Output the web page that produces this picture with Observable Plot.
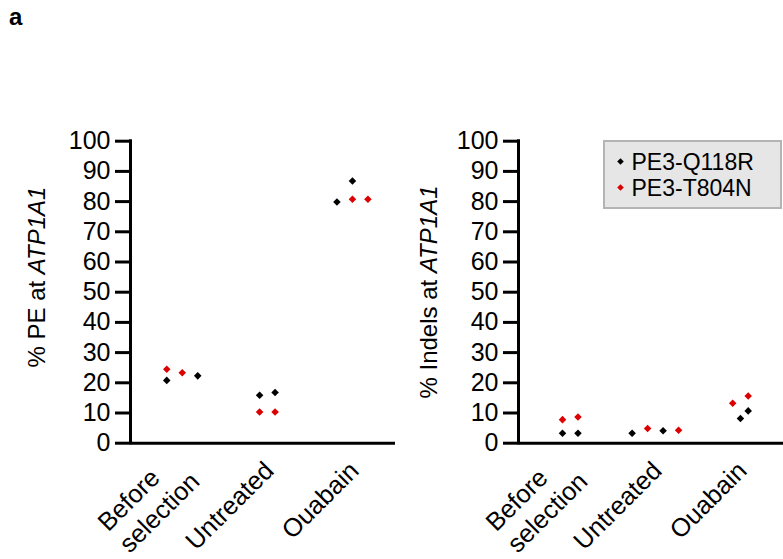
<!DOCTYPE html>
<html><head><meta charset="utf-8">
<script src="https://cdn.jsdelivr.net/npm/d3@7"></script>
<script src="https://cdn.jsdelivr.net/npm/@observablehq/plot@0.6"></script>
<style>
html,body{margin:0;padding:0;background:#fff;}
#root{position:relative;width:783px;height:559px;overflow:hidden;font-family:"Liberation Sans",Arial,sans-serif;}
.panel{position:absolute;top:0;}
#tag{position:absolute;left:9px;top:5px;font-weight:bold;font-size:24px;line-height:24px;}
#legend{position:absolute;left:603px;top:140px;}
</style></head><body><div id="root"><div id="tag">a</div></div>
<script>
// ---- data ----
const categories = ["Before\nselection", "Untreated", "Ouabain"];
const seriesNames = ["PE3-Q118R", "PE3-T804N"];
const seriesColors = ["#000000", "#dc0000"];
const yTicks = [0, 10, 20, 30, 40, 50, 60, 70, 80, 90, 100];
const yLabelPE = ["% PE at ", "ATP1A1"];
const yLabelIndel = ["% Indels at ", "ATP1A1"];

// category index of each replicate (two per category)
const pointCategory = [0, 0, 1, 1, 2, 2];
// % PE
const peQ118R = [20.8, 22.3, 15.9, 16.8, 79.9, 86.8];
const peQ118RSlot = [-1, 1, -0.5, 0.5, -1, 0];
const peT804N = [24.5, 23.3, 10.3, 10.3, 80.8, 80.8];
const peT804NSlot = [-1, 0, -0.5, 0.5, 0, 1];
// % Indels
const indelQ118R = [3.3, 3.3, 3.3, 4.1, 8.2, 10.7];
const indelQ118RSlot = [-0.5, 0.5, -1.5, 0.5, 0, 0.5];
const indelT804N = [7.8, 8.7, 4.9, 4.3, 13.2, 15.6];
const indelT804NSlot = [-0.5, 0.5, -0.5, 1.5, -0.5, 0.5];

// ---- layout ----
const FONT = '"Liberation Sans", Arial, sans-serif';
const slotStep = 0.182;
const xDomain = [-0.608, 2.506];
const xLabelSize = 25.5;
const ctx = document.createElement("canvas").getContext("2d");
function measure(t, size) { ctx.font = `${size}px ${FONT}`; return ctx.measureText(t).width; }

function rowsFor(q, qs, t, ts) {
  const rows = [];
  q.forEach((v, k) => rows.push({series: seriesNames[0], cat: pointCategory[k], slot: qs[k], value: v}));
  t.forEach((v, k) => rows.push({series: seriesNames[1], cat: pointCategory[k], slot: ts[k], value: v}));
  return rows;
}

function makePanel({rows, label, labelX, labelY, left, width, marginRight}) {
  const labelMarks = categories.map((c, i) => {
    const w = d3.max(c.split("\n"), l => measure(l, xLabelSize));
    return Plot.text([{label: c, cat: i}], {
      x: "cat", y: () => 0, text: "label",
      textAnchor: "start", lineAnchor: "middle", rotate: -45,
      fontSize: xLabelSize, lineHeight: 1.2, fill: "#000",
      dx: 1 - w * Math.SQRT1_2, dy: 22 + w * Math.SQRT1_2
    });
  });
  const chart = Plot.plot({
    width, height: 559,
    marginTop: 140.7, marginBottom: 116.3, marginLeft: 130, marginRight,
    style: {fontFamily: FONT, fontSize: "25px", overflow: "visible", background: "transparent"},
    x: {domain: xDomain, axis: null},
    y: {domain: [0, 100], axis: null},
    color: {domain: seriesNames, range: seriesColors},
    marks: [
      Plot.axisY({ticks: yTicks, tickSize: 15, tickPadding: 5, fontSize: 25, strokeWidth: 3, label: null, tickFormat: d => String(d), stroke: "#000", fill: "#000"}),
      Plot.ruleY([0], {strokeWidth: 3, stroke: "#000"}),
      Plot.ruleX([xDomain[0]], {y1: 0, y2: 100, strokeWidth: 3, stroke: "#000", strokeLinecap: "square"}),
      ...labelMarks,
      Plot.dot(rows, {x: d => d.cat + d.slot * slotStep, y: "value", fill: "series", symbol: "diamond2", r: 3.4, stroke: "none"})
    ]
  });
  const t = d3.select(chart).append("text")
    .attr("transform", `translate(${labelX},${labelY}) rotate(-90)`)
    .attr("text-anchor", "middle").attr("fill", "#000")
    .style("font-family", FONT).style("font-size", "24px");
  t.append("tspan").text(label[0]);
  t.append("tspan").attr("font-style", "italic").text(label[1]);
  const div = document.createElement("div");
  div.className = "panel";
  div.style.left = left + "px";
  div.appendChild(chart);
  document.getElementById("root").appendChild(div);
}

makePanel({rows: rowsFor(peQ118R, peQ118RSlot, peT804N, peT804NSlot), label: yLabelPE,
  labelX: 45, labelY: 277, left: 0, width: 400, marginRight: 5});
makePanel({rows: rowsFor(indelQ118R, indelQ118RSlot, indelT804N, indelT804NSlot), label: yLabelIndel,
  labelX: 49, labelY: 292, left: 388, width: 395, marginRight: 0});

// legend
const rowGap = 26;
const lg = d3.select("#root").append("svg").attr("id", "legend").attr("width", 180).attr("height", 70);
lg.append("rect").attr("x", 1).attr("y", 1).attr("width", 177).attr("height", 67)
  .attr("fill", "#e6e6e6").attr("stroke", "#b4b4b4").attr("stroke-width", 2);
lg.selectAll("polygon").data(seriesNames).join("polygon")
  .attr("transform", (d, i) => `translate(17.5,${21.5 + i * rowGap})`)
  .attr("points", "0,-3.3 3.3,0 0,3.3 -3.3,0")
  .attr("fill", (d, i) => seriesColors[i]);
lg.selectAll("text").data(seriesNames).join("text")
  .style("font-family", FONT).style("font-size", "23px").attr("fill", "#000")
  .attr("x", 28.5).attr("y", (d, i) => 29.5 + i * rowGap).text(d => d);
</script></body></html>
